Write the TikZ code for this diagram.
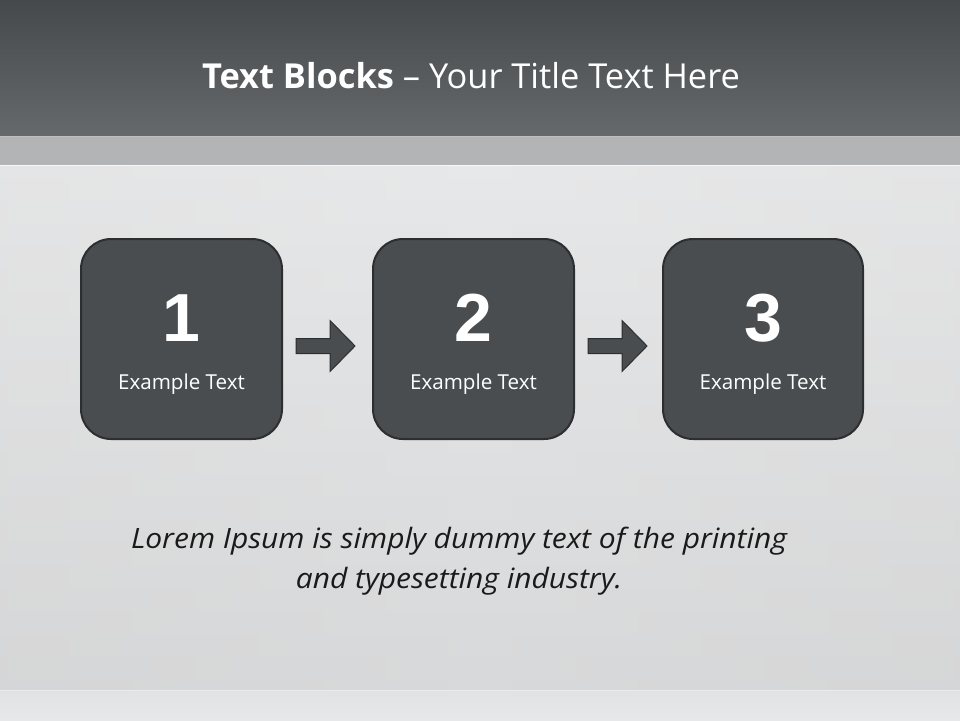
\documentclass[tikz,border=0pt]{standalone}
\usepackage{fontspec}
\setmainfont{Open Sans}
\newfontfamily\numfont{Liberation Sans}
\newfontfamily\loremfont[FakeStretch=1.07]{Open Sans}
\definecolor{hdtop}{HTML}{45494C}
\definecolor{hdbot}{HTML}{65696C}
\definecolor{band}{HTML}{B3B4B6}
\definecolor{bgtop}{HTML}{E7E8E9}
\definecolor{bgbot}{HTML}{D0D1D2}
\definecolor{floor}{HTML}{E1E2E3}
\definecolor{boxfill}{HTML}{4A4D50}
\definecolor{boxline}{HTML}{2C2E30}
\definecolor{loremc}{HTML}{1A1A1A}
\tikzset{
  stepbox/.style={draw=boxline, line width=2pt, fill=boxfill, rounded corners=30pt},
  numtext/.style={text=white, font=\numfont\bfseries\fontsize{68}{70}\selectfont, inner sep=0pt},
  labtext/.style={text=white, font=\fontsize{20.6}{24}\selectfont, inner sep=0pt},
  arrowshape/.style={draw=boxline, line width=1pt, fill=boxfill, line join=miter}
}
\begin{document}
\begin{tikzpicture}[x=1pt,y=-1pt]
\useasboundingbox (0,0) rectangle (960,720);
% background
\shade[top color=bgtop, bottom color=bgbot] (0,166) rectangle (960,690);
\shade[left color=black!12, right color=black!12, middle color=bgtop, opacity=0.35] (0,166) rectangle (960,690);
\shade[top color=floor, bottom color=bgtop] (0,690) rectangle (960,720);
\draw[color=black!8, line width=0.6pt] (0,690) -- (960,690);
% header
\shade[top color=hdtop, bottom color=hdbot] (0,0) rectangle (960,136);
\fill[band] (0,136) rectangle (960,166);
\draw[color=black!25, line width=0.8pt] (0,136.4) -- (960,136.4);
\draw[color=white!90!band, line width=0.8pt] (0,165.6) -- (960,165.6);
\node[text=white, font=\fontsize{34.4}{40}\selectfont, anchor=base, inner sep=0pt] (title) at (471,88) {\textbf{Text Blocks} – Your Title Text Here};
% boxes
\node[stepbox, minimum width=201pt, minimum height=200pt, anchor=north west] (b1) at (80,238) {};
\node[stepbox, minimum width=201pt, minimum height=200pt, anchor=north west] (b2) at (372,238) {};
\node[stepbox, minimum width=200pt, minimum height=200pt, anchor=north west] (b3) at (662,238) {};
\foreach \i in {1,2,3}{
  \node[numtext, anchor=base] (n\i) at (b\i.center |- 0,341) {\i};
}
\node[labtext, anchor=base] (l1) at (b1.center |- 0,389) {Example Text};
\node[labtext, anchor=base] (l2) at (b2.center |- 0,389) {Example Text};
\node[labtext, anchor=base] (l3) at (b3.center |- 0,389) {Example Text};
% arrows
\coordinate (a1) at (296,346);
\coordinate (a2) at (588,346);
\foreach \a in {a1,a2}{
  \draw[arrowshape] ([shift={(0,-7.5)}]\a) -- ++(34,0) -- ++(0,-18) -- ++(25,25.5) -- ++(-25,25.5) -- ++(0,-18) -- ++(-34,0) -- cycle;
}
% lorem
\node[text=loremc, font=\loremfont\itshape\fontsize{28}{40}\selectfont, align=center, anchor=base, inner sep=0pt] (lorem) at (459,588) {Lorem Ipsum is simply dummy text of the printing\\and typesetting industry.};
\end{tikzpicture}
\end{document}
